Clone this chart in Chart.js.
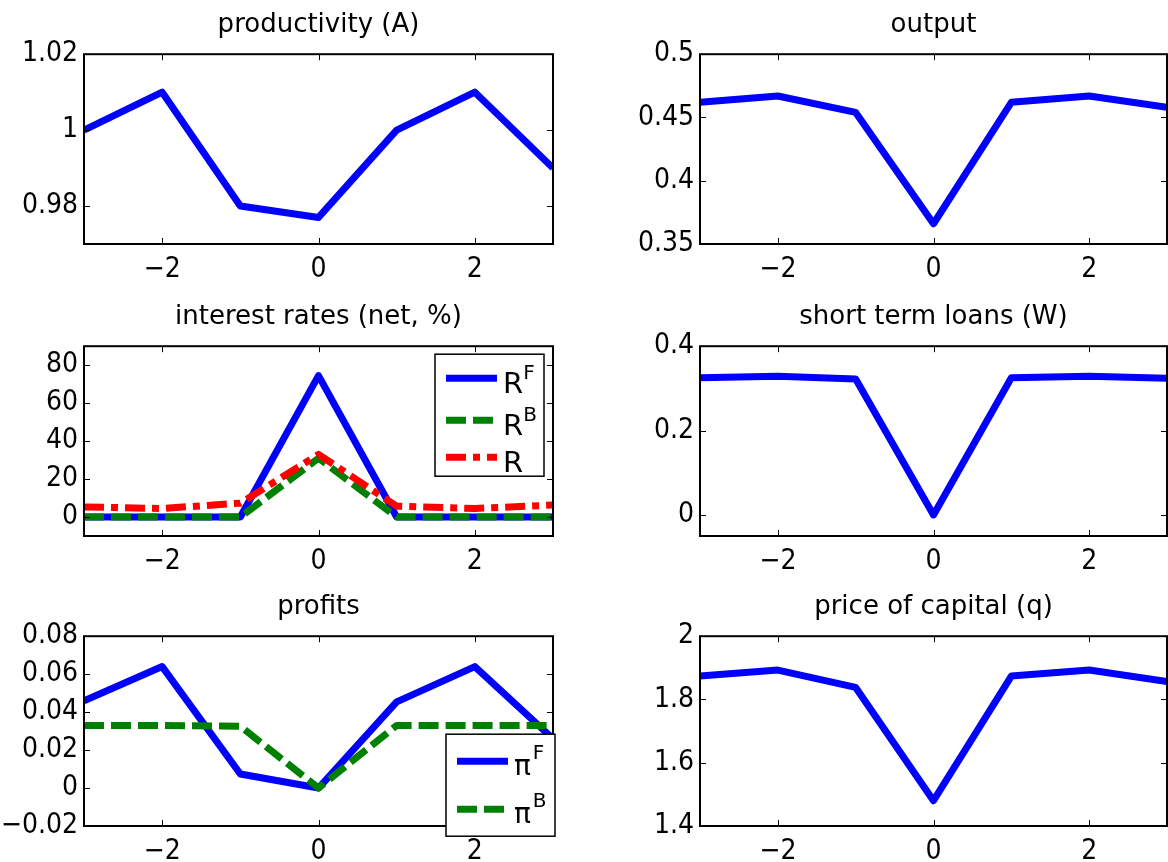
<!DOCTYPE html>
<html>
<head>
<meta charset="utf-8">
<script src="https://cdn.jsdelivr.net/npm/chart.js@4/dist/chart.umd.min.js"></script>
<style>
  html, body { margin: 0; padding: 0; background: #fff; }
  #fig { position: relative; width: 1168px; height: 862px; overflow: hidden; background: #fff; }
  #fig canvas { position: absolute; }
</style>
</head>
<body>
<div id="fig">
  <canvas id="cA" width="584" height="290" style="left:0;top:0"></canvas>
  <canvas id="cY" width="584" height="290" style="left:584px;top:0"></canvas>
  <canvas id="cR" width="584" height="290" style="left:0;top:292px"></canvas>
  <canvas id="cW" width="584" height="290" style="left:584px;top:292px"></canvas>
  <canvas id="cP" width="584" height="280" style="left:0;top:582px"></canvas>
  <canvas id="cQ" width="584" height="280" style="left:584px;top:582px"></canvas>
</div>
<script>
// ---- data ----
const periods = [-3, -2, -1, 0, 1, 2, 3];
const xTicks = [-2, 0, 2];

const productivity = [1.0, 1.01, 0.98, 0.977, 1.0, 1.01, 0.99];
const output       = [0.462, 0.467, 0.454, 0.366, 0.462, 0.467, 0.458];
const rateF        = [0, 0, 0, 74.5, 0, 0, 0];
const rateB        = [0, 0, 0, 31, 0, 0, 0];
const rateR        = [5.3, 4.5, 7.3, 33, 5.7, 4.5, 6.3];
const loansW       = [0.325, 0.329, 0.322, 0, 0.325, 0.329, 0.324];
const profitF      = [0.046, 0.064, 0.0074, 0, 0.0454, 0.064, 0.026];
const profitB      = [0.033, 0.033, 0.0325, 0, 0.033, 0.033, 0.033];
const capitalPrice = [1.874, 1.893, 1.838, 1.48, 1.874, 1.893, 1.857];

const yTicksA = [0.98, 1, 1.02];
const yTicksY = [0.35, 0.4, 0.45, 0.5];
const yTicksR = [0, 20, 40, 60, 80];
const yTicksW = [0, 0.2, 0.4];
const yTicksP = [-0.02, 0, 0.02, 0.04, 0.06, 0.08];
const yTicksQ = [1.4, 1.6, 1.8, 2];

// ---- styling ----
const BLUE = '#0000ff', GREEN = '#008000', RED = '#ff0000';
const TICK_FONT = { family: "'DejaVu Sans Condensed', 'DejaVu Sans', sans-serif", size: 28 };
const TITLE_FONT = { family: "'DejaVu Sans', sans-serif", size: 26, weight: 'normal' };
const LINE_W = 7;
const DASH = [20, 7];
const DASH_DOT = [20, 7, 7, 7];

const fmt = v => String(v).replace('-', '\u2212');
const toPoints = ys => ys.map((y, i) => ({ x: periods[i], y }));

// Box around the axes with inward tick marks on all four sides
const axesBox = {
  id: 'axesBox',
  afterDraw(chart) {
    const { ctx, chartArea: a, scales } = chart;
    const L = 6;
    ctx.save();
    ctx.strokeStyle = '#000';
    ctx.lineWidth = 1;
    ctx.beginPath();
    scales.x.ticks.forEach(t => {
      const px = Math.round(scales.x.getPixelForValue(t.value)) + 0.5;
      ctx.moveTo(px, a.bottom); ctx.lineTo(px, a.bottom - L);
      ctx.moveTo(px, a.top); ctx.lineTo(px, a.top + L);
    });
    scales.y.ticks.forEach(t => {
      const py = Math.round(scales.y.getPixelForValue(t.value)) + 0.5;
      ctx.moveTo(a.left, py); ctx.lineTo(a.left + L, py);
      ctx.moveTo(a.right, py); ctx.lineTo(a.right - L, py);
    });
    ctx.stroke();
    ctx.lineWidth = 2;
    ctx.strokeRect(a.left, a.top, a.right - a.left, a.bottom - a.top);
    ctx.restore();
  }
};

// Boxed legend placed inside the axes, with superscripted labels
const boxLegend = {
  id: 'boxLegend',
  afterDraw(chart, args, opts) {
    if (!opts || !opts.show) return;
    const { ctx, chartArea: a } = chart;
    const bx = a.right + opts.dxRight - opts.width;
    const by = a.top + opts.dyTop;
    ctx.save();
    ctx.fillStyle = '#fff';
    ctx.fillRect(bx, by, opts.width, opts.height);
    ctx.strokeStyle = '#000';
    ctx.lineWidth = 1.5;
    ctx.strokeRect(bx, by, opts.width, opts.height);
    chart.data.datasets.forEach((ds, i) => {
      const ly = by + opts.rows[i];
      ctx.strokeStyle = ds.borderColor;
      ctx.lineWidth = ds.borderWidth;
      ctx.setLineDash(ds.borderDash || []);
      ctx.beginPath();
      ctx.moveTo(bx + 11, ly);
      ctx.lineTo(bx + 62, ly);
      ctx.stroke();
      ctx.setLineDash([]);
      const [base, sup] = ds.label.split('^');
      ctx.fillStyle = '#000';
      ctx.textBaseline = 'alphabetic';
      ctx.textAlign = 'left';
      ctx.font = opts.baseFont;
      const tx = bx + 68;
      const baseY = ly + opts.baseDrop;
      ctx.fillText(base, tx, baseY);
      if (sup) {
        const w = ctx.measureText(base).width;
        ctx.font = "20px 'DejaVu Sans', sans-serif";
        ctx.fillText(sup, tx + w + opts.supGap, baseY - opts.supRise);
      }
    });
    ctx.restore();
  }
};

function makeChart(id, title, datasets, yMin, yMax, yTicks, opts) {
  const leftCol = opts.leftCol;
  return new Chart(document.getElementById(id), {
    type: 'line',
    data: { datasets },
    options: {
      responsive: false,
      animation: false,
      events: [],
      layout: { padding: { left: 0, top: 0, right: leftCol ? 31 : 1, bottom: 0 } },
      scales: {
        x: {
          type: 'linear', min: -3, max: 3,
          afterBuildTicks: s => { s.ticks = xTicks.map(v => ({ value: v })); },
          afterFit: s => { s.height = opts.xAxisHeight; },
          grid: { display: false, drawTicks: false },
          border: { display: false },
          ticks: { color: '#000', font: TICK_FONT, padding: 9, maxRotation: 0, callback: v => fmt(v) }
        },
        y: {
          type: 'linear', min: yMin, max: yMax,
          afterBuildTicks: s => { s.ticks = yTicks.map(v => ({ value: v })); },
          afterFit: s => { s.width = leftCol ? 84 : 116; },
          grid: { display: false, drawTicks: false },
          border: { display: false },
          ticks: { color: '#000', font: TICK_FONT, padding: 6, callback: v => fmt(v) }
        }
      },
      elements: {
        point: { radius: 0 },
        line: { tension: 0, borderWidth: LINE_W, borderJoinStyle: 'round', borderCapStyle: 'butt' }
      },
      plugins: {
        legend: { display: false },
        tooltip: { enabled: false },
        title: {
          display: true, fullSize: false, text: title, color: '#000', font: TITLE_FONT,
          padding: { top: 10, bottom: 13 }
        },
        boxLegend: opts.legend || { show: false }
      }
    },
    plugins: [axesBox, boxLegend]
  });
}

const line = (label, ys, color, dash, order) => ({
  label, data: toPoints(ys), borderColor: color, backgroundColor: color,
  borderWidth: LINE_W, borderDash: dash || [], fill: false, clip: 0, order: order || 0
});

makeChart('cA', 'productivity (A)', [line('A', productivity, BLUE)], 0.97, 1.02, yTicksA,
  { leftCol: true, xAxisHeight: 46 });

makeChart('cY', 'output', [line('Y', output, BLUE)], 0.35, 0.5, yTicksY,
  { leftCol: false, xAxisHeight: 46 });

makeChart('cR', 'interest rates (net, %)', [
    line('R^F', rateF, BLUE, null, 3),
    line('R^B', rateB, GREEN, DASH, 2),
    line('R', rateR, RED, DASH_DOT, 1)
  ], -10, 90, yTicksR,
  { leftCol: true, xAxisHeight: 46,
    legend: { show: true, dxRight: -9, dyTop: 8, width: 109, height: 122, rows: [24, 66, 103],
              baseFont: "29px 'DejaVu Sans', sans-serif", baseDrop: 15, supGap: 0, supRise: 14 } });

makeChart('cW', 'short term loans (W)', [line('W', loansW, BLUE)], -0.05, 0.4, yTicksW,
  { leftCol: false, xAxisHeight: 46 });

makeChart('cP', 'profits', [
    line('\u03C0^F', profitF, BLUE, null, 2),
    line('\u03C0^B', profitB, GREEN, DASH, 1)
  ], -0.02, 0.08, yTicksP,
  { leftCol: true, xAxisHeight: 36,
    legend: { show: true, dxRight: 2, dyTop: 98, width: 109, height: 102, rows: [27, 75],
              baseFont: "28px 'DejaVu Sans', sans-serif", baseDrop: 14, supGap: 2, supRise: 16 } });

makeChart('cQ', 'price of capital (q)', [line('q', capitalPrice, BLUE)], 1.4, 2, yTicksQ,
  { leftCol: false, xAxisHeight: 36 });
</script>
</body>
</html>
